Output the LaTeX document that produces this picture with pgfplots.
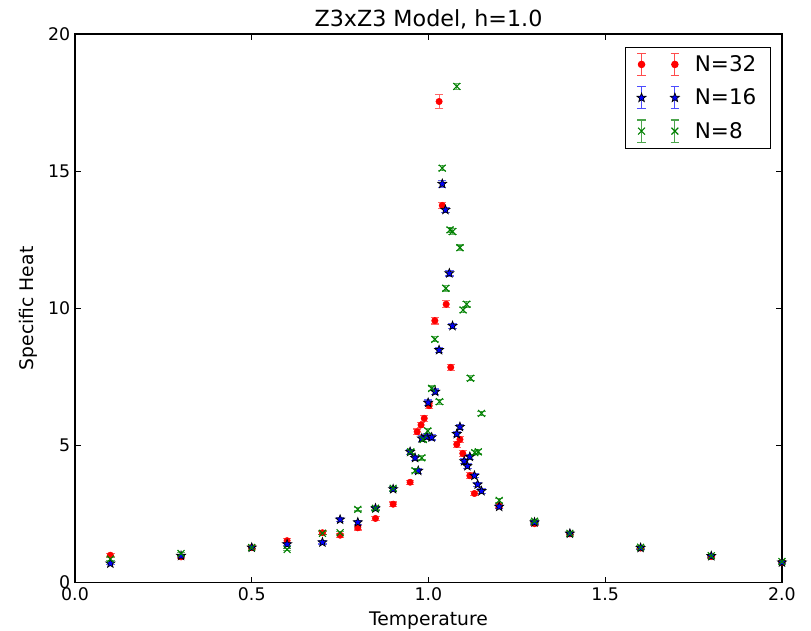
\documentclass[border=0pt]{standalone}
\usepackage{fontspec}
\setmainfont{DejaVu Sans}
\usepackage{pgfplots}
\usepackage{pgfplotstable}
\pgfplotsset{compat=1.18}

\definecolor{mplgreen}{rgb}{0,0.5,0}

% filled five-point star
\pgfdeclareplotmark{fstar}{%
  \pgfpathmoveto{\pgfpointpolar{90}{\pgfplotmarksize}}%
  \pgfpathlineto{\pgfpointpolar{126}{0.42\pgfplotmarksize}}%
  \pgfpathlineto{\pgfpointpolar{162}{\pgfplotmarksize}}%
  \pgfpathlineto{\pgfpointpolar{198}{0.42\pgfplotmarksize}}%
  \pgfpathlineto{\pgfpointpolar{234}{\pgfplotmarksize}}%
  \pgfpathlineto{\pgfpointpolar{270}{0.42\pgfplotmarksize}}%
  \pgfpathlineto{\pgfpointpolar{306}{\pgfplotmarksize}}%
  \pgfpathlineto{\pgfpointpolar{342}{0.42\pgfplotmarksize}}%
  \pgfpathlineto{\pgfpointpolar{18}{\pgfplotmarksize}}%
  \pgfpathlineto{\pgfpointpolar{54}{0.42\pgfplotmarksize}}%
  \pgfpathclose
  \pgfusepathqfillstroke
}

% N=32
\pgfplotstableread{
T C e
0.100 1.00 0.06
0.300 0.94 0.06
0.500 1.28 0.06
0.600 1.53 0.07
0.700 1.82 0.07
0.750 1.73 0.07
0.800 2.00 0.08
0.850 2.34 0.08
0.900 2.86 0.08
0.948 3.66 0.08
0.968 5.50 0.10
0.979 5.75 0.10
0.988 5.99 0.10
1.002 6.45 0.10
1.018 9.55 0.12
1.030 17.54 0.25
1.039 13.75 0.12
1.050 10.15 0.12
1.063 7.85 0.10
1.080 5.04 0.10
1.089 5.22 0.10
1.097 4.71 0.10
1.117 3.90 0.10
1.130 3.25 0.08
1.200 2.80 0.08
1.300 2.15 0.07
1.400 1.78 0.06
1.600 1.26 0.05
1.800 0.95 0.05
2.000 0.75 0.05
}\dataA

% N=16
\pgfplotstableread{
T C e
0.100 0.70 0.05
0.300 0.98 0.05
0.500 1.28 0.05
0.600 1.40 0.06
0.700 1.47 0.06
0.750 2.30 0.07
0.800 2.20 0.07
0.850 2.71 0.08
0.900 3.41 0.08
0.948 4.77 0.09
0.962 4.55 0.09
0.971 4.08 0.09
0.981 5.26 0.10
0.995 5.32 0.10
0.999 6.56 0.10
1.009 5.30 0.10
1.019 6.96 0.10
1.030 8.48 0.10
1.039 14.54 0.12
1.048 13.59 0.10
1.059 11.28 0.10
1.068 9.36 0.10
1.080 5.42 0.10
1.089 5.68 0.10
1.101 4.43 0.09
1.110 4.25 0.09
1.117 4.59 0.09
1.130 3.90 0.08
1.139 3.58 0.08
1.150 3.34 0.08
1.200 2.77 0.07
1.300 2.20 0.06
1.400 1.79 0.05
1.600 1.27 0.05
1.800 0.97 0.04
2.000 0.74 0.04
}\dataB

% N=8
\pgfplotstableread{
T C e
0.100 0.86 0.05
0.300 1.06 0.05
0.500 1.28 0.05
0.600 1.21 0.05
0.700 1.80 0.06
0.750 1.82 0.06
0.800 2.67 0.06
0.850 2.71 0.06
0.900 3.44 0.07
0.950 4.77 0.08
0.962 4.08 0.08
0.981 4.55 0.08
0.985 5.22 0.08
0.998 5.53 0.08
1.009 7.08 0.09
1.018 8.87 0.09
1.031 6.60 0.09
1.039 15.11 0.10
1.049 10.73 0.10
1.061 12.86 0.10
1.068 12.80 0.10
1.080 18.09 0.10
1.089 12.21 0.10
1.098 9.94 0.10
1.108 10.15 0.10
1.119 7.45 0.09
1.131 4.74 0.08
1.141 4.77 0.08
1.150 6.17 0.08
1.200 3.00 0.07
1.300 2.24 0.06
1.400 1.80 0.05
1.600 1.29 0.05
1.800 0.98 0.04
2.000 0.77 0.04
}\dataC

% legend picture: two error bars with markers, like matplotlib numpoints=2
\newcommand{\ebar}[2]{%
  \draw[#2, opacity=0.7, line width=0.8pt]
    (#1-3pt,-8pt) -- (#1+3pt,-8pt) (#1,-8pt) -- (#1,8pt) (#1-3pt,8pt) -- (#1+3pt,8pt);}
\newcommand{\errleg}[2]{%
  \ebar{0pt}{#1}\ebar{24pt}{#1}%
  \path plot[#2] coordinates {(0pt,0pt) (24pt,0pt)};}

\begin{document}
\begin{tikzpicture}
\begin{axis}[
  scale only axis, width=509pt, height=395pt,
  xmin=0, xmax=2, ymin=0, ymax=20,
  xtick={0,0.5,1,1.5,2}, ytick={0,5,10,15,20},
  minor tick num=0,
  tick align=inside, major tick length=4.3pt,
  axis line style={line width=0.8pt},
  every tick/.style={black, line width=0.6pt},
  /pgf/number format/assume math mode=true,
  xticklabel style={/pgf/number format/fixed, /pgf/number format/fixed zerofill,
    /pgf/number format/precision=1},
  tick label style={font=\fontsize{12.5}{15}\selectfont},
  label style={font=\fontsize{13.5}{16}\selectfont},
  title style={font=\fontsize{16}{19}\selectfont, anchor=base, yshift=-0.5pt},
  xlabel style={at={(axis description cs:0.5,-0.0775)}, anchor=base},
  ylabel style={at={(axis description cs:-0.0664,0.5)}, anchor=center},
  title={Z3xZ3 Model, h=1.0},
  xlabel={Temperature}, ylabel={Specific Heat},
  legend style={at={(rel axis cs:1,1)}, anchor=north east, xshift=-8pt, yshift=-9pt,
    draw=black, line width=0.8pt, font=\fontsize{15.5}{18}\selectfont,
    row sep=7pt, column sep=9pt, inner xsep=8pt, inner ysep=4pt,
    nodes={inner sep=2pt}},
  legend cell align=left,
  clip=false,
]
\addplot[only marks, mark=*, mark size=2.3pt, red, mark options={fill=red, draw=red},
  error bars/.cd, y dir=both, y explicit,
  error bar style={red, opacity=0.6, line width=0.8pt},
  error mark options={rotate=90, mark size=3pt, red, opacity=0.6, line width=0.8pt},
  /pgfplots/legend image code/.code={\errleg{red}{mark=*, mark size=2.3pt, mark options={fill=red, draw=red}}}]
  table[x=T, y=C, y error=e] {\dataA};
\addlegendentry{N=32}
\addplot[only marks, mark=fstar, mark size=3.4pt, mark options={fill=blue, draw=black, line width=0.5pt},
  error bars/.cd, y dir=both, y explicit,
  error bar style={blue, opacity=0.6, line width=0.8pt},
  error mark options={rotate=90, mark size=3pt, blue, opacity=0.6, line width=0.8pt},
  /pgfplots/legend image code/.code={\errleg{blue}{mark=fstar, mark size=3.4pt, mark options={fill=blue, draw=black, line width=0.5pt}}}]
  table[x=T, y=C, y error=e] {\dataB};
\addlegendentry{N=16}
\addplot[only marks, mark=x, mark size=3.5pt, mplgreen, mark options={line width=0.8pt},
  error bars/.cd, y dir=both, y explicit,
  error bar style={mplgreen, opacity=0.6, line width=0.8pt},
  error mark options={rotate=90, mark size=3pt, mplgreen, opacity=0.6, line width=0.8pt},
  /pgfplots/legend image code/.code={\errleg{mplgreen}{mark=x, mark size=3.5pt, mark options={draw=mplgreen, line width=0.8pt}}}]
  table[x=T, y=C, y error=e] {\dataC};
\addlegendentry{N=8}
\coordinate (bl) at (rel axis cs:0,0);
\coordinate (tr) at (rel axis cs:1,1);
\end{axis}
\pgfresetboundingbox
\path ([xshift=-54pt,yshift=-34.6pt]bl) rectangle ([xshift=20.9pt,yshift=24.5pt]tr);
\end{tikzpicture}
\end{document}
